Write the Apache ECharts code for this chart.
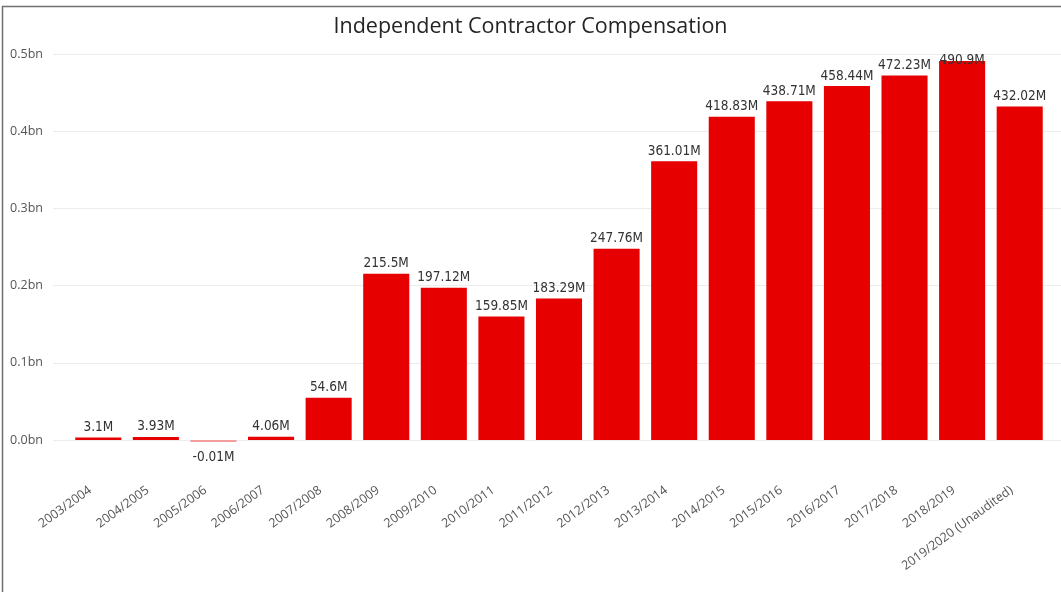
<!DOCTYPE html>
<html>
<head>
<meta charset="utf-8">
<title>Independent Contractor Compensation</title>
<script src="https://cdn.jsdelivr.net/npm/echarts@6/dist/echarts.min.js"></script>
<style>
	html, body { margin: 0; padding: 0; background: #fff; }
	#chart { width: 1061px; height: 592px; }
</style>
</head>
<body>
<div id="chart"></div>
<script>
// fiscal years
var years = ['2003/2004', '2004/2005', '2005/2006', '2006/2007', '2007/2008', '2008/2009',
	'2009/2010', '2010/2011', '2011/2012', '2012/2013', '2013/2014', '2014/2015',
	'2015/2016', '2016/2017', '2017/2018', '2018/2019', '2019/2020 (Unaudited)'];
// compensation, millions
var compensation = [3.1, 3.93, -0.01, 4.06, 54.6, 215.5, 197.12, 159.85, 183.29, 247.76,
	361.01, 418.83, 438.71, 458.44, 472.23, 490.9, 432.02];
// y axis ticks, millions (shown as bn)
var yTicks = [0, 100, 200, 300, 400, 500];

var labelFont = "'DejaVu Sans Condensed', Roboto, sans-serif";
var axisFont = "'Open Sans', 'Noto Sans', sans-serif";

var barData = compensation.map(function(v, i) {
	var item = { value: v };
	if (v < 0) {
		// tiny negative bar drawn as a thin pale line
		item.itemStyle = { color: '#F29C9C' };
		item.label = { position: 'bottom', distance: 8 };
	}
	if (i === compensation.length - 2) {
		// label squeezed at top of plot
		item.label = { offset: [0, 9] };
	}
	return item;
});

var chart = echarts.init(document.getElementById('chart'));
var option = {
	animation: false,
	title: {
		text: 'Independent Contractor Compensation',
		left: 'center',
		top: 16,
		padding: 0,
		textStyle: {
			fontFamily: axisFont,
			fontWeight: 'normal',
			fontSize: 21.5,
			color: '#252423'
		}
	},
	graphic: [{
		type: 'rect',
		shape: { x: 2.5, y: 6.5, width: 1200, height: 800 },
		style: { fill: 'none', stroke: '#707070', lineWidth: 1.5 },
		silent: true
	}],
	grid: [
		{ left: 53, right: 0, top: 54, bottom: 152 },
		{ left: 69.5, right: 12.5, top: 54, bottom: 152 }
	],
	xAxis: [
		{ gridIndex: 0, type: 'value', show: false, min: 0, max: 1 },
		{
			gridIndex: 1,
			type: 'category',
			data: years,
			axisLine: { show: false },
			axisTick: { show: false },
			axisLabel: {
				interval: 0,
				rotate: 36,
				margin: 43,
				padding: [0, 10, 0, 0],
				fontFamily: axisFont,
				fontSize: 12.5,
				color: '#555'
			}
		}
	],
	yAxis: [
		{
			gridIndex: 0,
			type: 'value',
			min: yTicks[0],
			max: yTicks[yTicks.length - 1],
			interval: 100,
			axisLine: { show: false },
			axisTick: { show: false },
			splitLine: { lineStyle: { color: '#ECECEC', width: 1 } },
			axisLabel: {
				margin: 10,
				fontFamily: axisFont,
				fontSize: 12.5,
				color: '#555',
				formatter: function(v) { return (v / 1000).toFixed(1) + 'bn'; }
			}
		},
		{
			gridIndex: 1,
			type: 'value',
			min: yTicks[0],
			max: yTicks[yTicks.length - 1],
			show: false
		}
	],
	series: [{
		name: 'Compensation',
		type: 'bar',
		xAxisIndex: 1,
		yAxisIndex: 1,
		data: barData,
		clip: false,
		barCategoryGap: '20%',
		barMinHeight: 2,
		itemStyle: { color: '#E60000' },
		label: {
			show: true,
			position: 'top',
			distance: 3,
			fontFamily: labelFont,
			fontSize: 13.5,
			color: '#333',
			formatter: function(p) { return p.value + 'M'; }
		}
	}]
};
chart.setOption(option);
window.addEventListener('resize', chart.resize);
</script>
</body>
</html>
